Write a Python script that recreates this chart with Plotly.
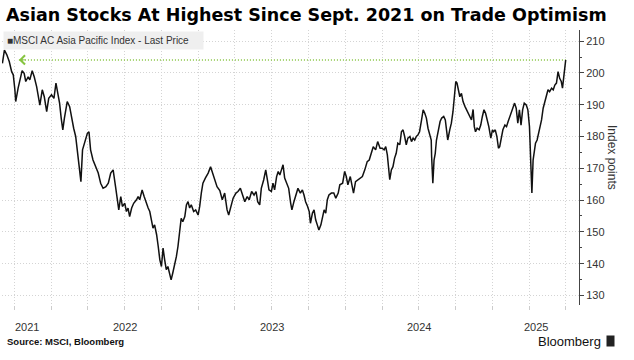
import plotly.graph_objects as go

dates = [
    "2021-09-01","2021-09-06","2021-09-12","2021-09-18","2021-09-24","2021-09-28","2021-10-02","2021-10-04",
    "2021-10-10","2021-10-14","2021-10-20","2021-10-25","2021-10-29","2021-11-04","2021-11-08","2021-11-14",
    "2021-11-19","2021-11-25","2021-11-29","2021-12-03","2021-12-09","2021-12-14","2021-12-20","2021-12-25",
    "2022-01-01","2022-01-07","2022-01-12","2022-01-17","2022-01-21","2022-01-25","2022-01-29","2022-02-02",
    "2022-02-09","2022-02-15","2022-02-19","2022-02-25","2022-03-02","2022-03-08","2022-03-12","2022-03-15",
    "2022-03-19","2022-03-25","2022-03-31","2022-04-04","2022-04-08","2022-04-14","2022-04-20","2022-04-27",
    "2022-05-03","2022-05-09","2022-05-16","2022-05-22","2022-05-28","2022-06-03","2022-06-09","2022-06-13",
    "2022-06-17","2022-06-22","2022-06-26","2022-07-02","2022-07-06","2022-07-10","2022-07-14","2022-07-19",
    "2022-07-24","2022-07-31","2022-08-04","2022-08-08","2022-08-14","2022-08-19","2022-08-25","2022-08-29",
    "2022-09-02","2022-09-06","2022-09-10","2022-09-14","2022-09-19","2022-09-23","2022-09-27","2022-10-01",
    "2022-10-05","2022-10-09","2022-10-13","2022-10-17","2022-10-21","2022-10-25","2022-10-29","2022-11-03",
    "2022-11-07","2022-11-11","2022-11-15","2022-11-19","2022-11-23","2022-11-28","2022-12-02","2022-12-06",
    "2022-12-10","2022-12-14","2022-12-20","2022-12-25","2022-12-31","2023-01-04","2023-01-08","2023-01-12",
    "2023-01-18","2023-01-25","2023-01-31","2023-02-05","2023-02-10","2023-02-16","2023-02-23","2023-03-01",
    "2023-03-07","2023-03-13","2023-03-17","2023-03-22","2023-03-28","2023-04-04","2023-04-09","2023-04-15",
    "2023-04-20","2023-04-26","2023-05-02","2023-05-07","2023-05-13","2023-05-19","2023-05-24","2023-05-28",
    "2023-06-02","2023-06-06","2023-06-12","2023-06-17","2023-06-21","2023-06-25","2023-07-01","2023-07-05",
    "2023-07-09","2023-07-14","2023-07-18","2023-07-22","2023-07-26","2023-07-30","2023-08-03","2023-08-07",
    "2023-08-13","2023-08-18","2023-08-21","2023-08-26","2023-08-31","2023-09-05","2023-09-11","2023-09-16",
    "2023-09-20","2023-09-24","2023-09-29","2023-10-03","2023-10-06","2023-10-11","2023-10-15","2023-10-19",
    "2023-10-23","2023-10-27","2023-11-01","2023-11-05","2023-11-09","2023-11-13","2023-11-17","2023-11-21",
    "2023-11-27","2023-12-03","2023-12-08","2023-12-14","2023-12-18","2023-12-25","2023-12-30","2024-01-03",
    "2024-01-07","2024-01-13","2024-01-18","2024-01-21","2024-01-26","2024-02-01","2024-02-07","2024-02-12",
    "2024-02-18","2024-02-24","2024-02-29","2024-03-06","2024-03-10","2024-03-16","2024-03-21","2024-03-27",
    "2024-04-01","2024-04-06","2024-04-10","2024-04-14","2024-04-17","2024-04-20","2024-04-24","2024-04-28",
    "2024-05-02","2024-05-06","2024-05-10","2024-05-15","2024-05-19","2024-05-23","2024-05-27","2024-05-31",
    "2024-06-04","2024-06-09","2024-06-13","2024-06-17","2024-06-21","2024-06-25","2024-06-29","2024-07-03",
    "2024-07-08","2024-07-12","2024-07-16","2024-07-20","2024-07-24","2024-07-28","2024-08-01","2024-08-02",
    "2024-08-05","2024-08-08","2024-08-11","2024-08-14","2024-08-19","2024-08-23","2024-08-27","2024-09-01",
    "2024-09-05","2024-09-09","2024-09-11","2024-09-16","2024-09-20","2024-09-24","2024-09-28","2024-10-01",
    "2024-10-04","2024-10-08","2024-10-11","2024-10-15","2024-10-19","2024-10-24","2024-10-28","2024-11-01",
    "2024-11-05","2024-11-09","2024-11-13","2024-11-16","2024-11-19","2024-11-23","2024-11-28","2024-12-02",
    "2024-12-06","2024-12-10","2024-12-14","2024-12-18","2024-12-22","2024-12-27","2024-12-31","2025-01-03",
    "2025-01-07","2025-01-11","2025-01-15","2025-01-18","2025-01-22","2025-01-26","2025-01-31","2025-02-04",
    "2025-02-08","2025-02-12","2025-02-16","2025-02-20","2025-02-24","2025-02-28","2025-03-04","2025-03-08",
    "2025-03-12","2025-03-16","2025-03-20","2025-03-25","2025-03-29","2025-04-02","2025-04-05","2025-04-08",
    "2025-04-11","2025-04-14","2025-04-17","2025-04-21","2025-04-25","2025-05-02","2025-05-06","2025-05-10",
    "2025-05-14","2025-05-18","2025-05-22","2025-05-27","2025-05-31","2025-06-04","2025-06-08","2025-06-12",
    "2025-06-16","2025-06-20","2025-06-23","2025-06-26","2025-07-01",
]

values = [
    203.0,207.2,205.7,203.6,200.4,199.4,194.7,191.0,
    195.2,197.8,200.7,199.9,197.3,198.8,197.8,200.7,
    198.8,195.7,192.0,189.9,194.7,192.5,187.8,192.0,
    193.1,192.0,196.8,193.6,190.5,185.8,182.1,185.8,
    191.0,189.4,186.3,182.6,180.0,172.6,169.5,165.8,
    175.8,178.9,181.0,181.5,175.8,172.6,170.5,168.5,
    165.3,163.7,164.2,165.3,168.5,169.5,164.2,160.1,
    156.9,161.1,158.0,159.0,156.4,157.5,154.8,157.5,
    159.0,160.1,161.1,160.1,163.2,161.1,158.5,157.5,
    156.4,153.2,151.2,152.2,149.1,145.4,141.2,139.1,
    144.9,141.2,138.1,139.1,136.5,134.9,137.0,139.6,
    142.2,145.4,150.6,154.3,153.2,154.8,158.5,159.5,
    157.5,158.5,156.4,156.9,155.3,158.0,162.2,165.3,
    166.9,168.5,170.5,168.5,166.4,164.2,163.0,160.1,
    162.2,156.9,155.3,158.0,160.6,162.2,162.7,163.7,
    161.6,159.5,161.1,160.1,162.7,161.6,162.7,159.5,
    158.5,163.7,166.4,169.5,166.4,163.2,162.7,165.3,
    163.2,167.4,169.0,167.9,169.5,171.1,166.9,165.8,
    163.7,159.0,156.9,159.5,161.6,163.7,162.2,163.2,
    161.6,159.5,158.0,156.4,152.7,155.9,156.9,153.8,
    152.2,150.6,152.2,154.8,156.9,155.9,160.1,161.6,
    162.2,162.2,160.6,162.2,164.8,165.3,169.0,167.4,
    164.8,167.4,164.2,162.2,165.8,166.4,166.9,167.4,
    169.5,172.1,172.6,174.7,176.8,175.8,178.4,176.3,
    176.3,175.8,176.8,174.2,170.5,166.4,169.5,170.5,
    173.2,174.7,177.9,177.4,181.5,182.1,180.0,177.4,
    179.5,180.0,178.4,179.5,178.9,180.0,180.5,181.5,
    185.2,188.4,187.3,185.8,182.6,181.0,178.9,173.7,
    165.3,172.6,174.7,178.9,182.6,184.7,185.8,186.3,
    185.2,181.5,178.9,182.1,184.2,187.8,193.6,197.3,
    196.8,194.7,192.5,193.6,191.0,189.4,188.4,187.3,
    186.3,185.2,188.5,183.1,181.5,182.6,182.1,183.6,
    186.3,188.4,187.3,185.2,183.1,179.5,182.1,181.5,
    182.1,180.0,176.3,176.8,179.5,182.1,183.6,183.1,
    184.7,186.3,187.8,189.4,190.5,188.9,184.2,188.4,
    183.6,188.4,190.5,189.9,188.4,183.1,172.6,162.2,
    172.6,175.8,177.9,178.9,181.0,185.2,188.9,191.0,
    192.5,194.7,194.1,195.2,194.7,196.2,196.8,200.4,
    198.3,197.3,195.2,199.4,204.1,
]

year_labels = ["2021", "2022", "2023", "2024", "2025"]
year_label_dates = ["2021-10-31", "2022-07-02", "2023-07-02", "2024-07-01", "2025-04-17"]
quarter_ticks = [
    "2021-10-01", "2022-01-01", "2022-04-01", "2022-07-01", "2022-10-01",
    "2023-01-01", "2023-04-01", "2023-07-01", "2023-10-01",
    "2024-01-01", "2024-04-01", "2024-07-01", "2024-10-01",
    "2025-01-01", "2025-04-01", "2025-07-01",
]
y_ticks = [130, 140, 150, 160, 170, 180, 190, 200, 210]
arrow_start_date = "2021-10-12"
x_range = ["2021-08-31", "2025-08-03"]
y_range = [127, 213.5]

W, H = 634, 360
ML, MR, MT, MB = 2, 55, 30, 55
PW, PH = W - ML - MR, H - MT - MB


def px_x(x):
    return (x - ML) / PW


def px_y(y):
    return (H - MB - y) / PH


FONT = "Liberation Sans, Arial, sans-serif"
NARROW = "Liberation Sans Narrow, Liberation Sans, Arial, sans-serif"
GREEN = "#86C440"
GRID = "#D4D4D4"
level = values[-1]

fig = go.Figure()

fig.add_trace(go.Scatter(
    x=[arrow_start_date, dates[-1]], y=[level, level],
    mode="lines", line=dict(color=GREEN, width=1.5, dash="1px,2px"),
    hoverinfo="skip", showlegend=False,
))

fig.add_trace(go.Scatter(
    x=dates, y=values, mode="lines",
    line=dict(color="#111111", width=1.5),
    name="MSCI AC Asia Pacific Index - Last Price", showlegend=False,
))

annotations = []
for lab, d in zip(year_labels, year_label_dates):
    annotations.append(dict(
        x=d, xref="x", y=0, yref="paper", yanchor="top", xanchor="center",
        yshift=-14, text=lab, showarrow=False,
        font=dict(family=NARROW, size=11, color="#333333"),
    ))

annotations.append(dict(
    x=arrow_start_date, y=level, xref="x", yref="y",
    ax=8, ay=0, axref="pixel", ayref="pixel",
    showarrow=True, arrowhead=4, arrowsize=1.8, arrowwidth=1,
    arrowcolor=GREEN, text="",
))

annotations.append(dict(
    x=px_x(3), y=px_y(31), xref="paper", yref="paper", xanchor="left", yanchor="top",
    text="■MSCI AC Asia Pacific Index - Last Price" + "&nbsp;" * 4,
    showarrow=False, bgcolor="#EFEFEF", borderpad=3,
    font=dict(family=NARROW, size=10, color="#333333"), align="left",
))

annotations.append(dict(
    x=px_x(612), y=px_y(157), xref="paper", yref="paper", xanchor="center", yanchor="middle",
    text="Index points", textangle=90, showarrow=False,
    font=dict(family=NARROW, size=12, color="#333333"),
))

annotations.append(dict(
    x=px_x(4), y=px_y(15), xref="paper", yref="paper", xanchor="left", yanchor="middle",
    text="<b>Asian Stocks At Highest Since Sept. 2021 on Trade Optimism</b>",
    showarrow=False, font=dict(family="DejaVu Sans, sans-serif", size=17.5, color="#000000"),
))

annotations.append(dict(
    x=px_x(5), y=px_y(341), xref="paper", yref="paper", xanchor="left", yanchor="middle",
    text="<b>Source: MSCI, Bloomberg</b>", showarrow=False,
    font=dict(family=FONT, size=9.5, color="#111111"),
))
annotations.append(dict(
    x=px_x(603), y=px_y(341), xref="paper", yref="paper", xanchor="right", yanchor="middle",
    text="Bloomberg", showarrow=False,
    font=dict(family=FONT, size=13, color="#111111"),
))
annotations.append(dict(
    x=px_x(606), y=px_y(341), xref="paper", yref="paper", xanchor="left", yanchor="middle",
    text=" ", showarrow=False, width=7, height=10, bgcolor="#222222", borderpad=0,
    font=dict(size=6),
))

fig.update_layout(
    width=W, height=H,
    margin=dict(l=ML, r=MR, t=MT, b=MB),
    paper_bgcolor="white", plot_bgcolor="white",
    showlegend=False,
    hovermode=False,
    annotations=annotations,
    xaxis=dict(
        type="date", range=x_range,
        tickvals=quarter_ticks, ticktext=[""] * len(quarter_ticks),
        showgrid=True, gridcolor=GRID, griddash="1px,2px", gridwidth=1,
        ticks="outside", ticklen=4, tickcolor="#CCCCCC",
        showline=False, zeroline=False, fixedrange=True,
    ),
    yaxis=dict(
        side="right", range=y_range, tickvals=y_ticks,
        showgrid=True, gridcolor=GRID, griddash="1px,2px", gridwidth=1,
        ticks="outside", ticklen=4, tickcolor="#444444",
        minor=dict(dtick=5, tick0=125, ticks="outside", ticklen=2, tickcolor="#444444", showgrid=False),
        showline=True, linecolor="#444444", linewidth=1,
        tickfont=dict(family=NARROW, size=11, color="#333333"),
        zeroline=False, fixedrange=True, automargin=False,
    ),
    font=dict(family=FONT),
)

fig.write_html(
    "out.html",
    config={"displayModeBar": False, "staticPlot": True},
    post_script="document.body.style.margin='0';",
)
